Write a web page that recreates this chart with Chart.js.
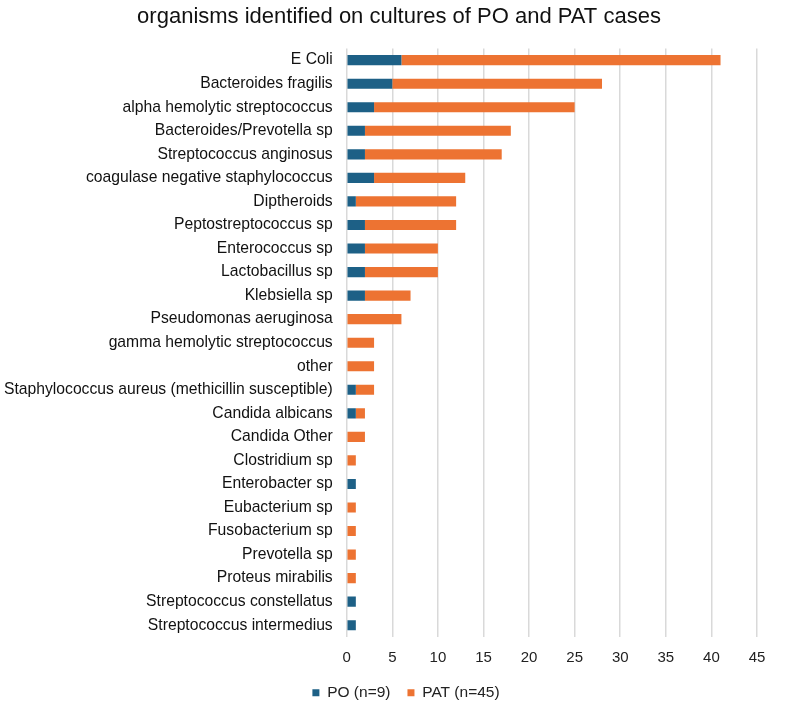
<!DOCTYPE html>
<html><head><meta charset="utf-8">
<script src="https://cdn.jsdelivr.net/npm/chart.js@4"></script>
<style>html,body{margin:0;padding:0;background:#fff}#wrap{width:798px;height:702px}</style>
</head><body><div id="wrap"><canvas id="c"></canvas></div>
<script>
const categories = ["E Coli","Bacteroides fragilis","alpha hemolytic streptococcus","Bacteroides/Prevotella sp","Streptococcus anginosus","coagulase negative staphylococcus","Diptheroids","Peptostreptococcus sp","Enterococcus sp","Lactobacillus sp","Klebsiella sp","Pseudomonas aeruginosa","gamma hemolytic streptococcus","other","Staphylococcus aureus (methicillin susceptible)","Candida albicans","Candida Other","Clostridium sp","Enterobacter sp","Eubacterium sp","Fusobacterium sp","Prevotella sp","Proteus mirabilis","Streptococcus constellatus","Streptococcus intermedius"];
const poValues  = [6,5,3,2,2,3,1,2,2,2,2,0,0,0,1,1,0,0,1,0,0,0,0,1,1];
const patValues = [35,23,22,16,15,10,11,10,8,8,5,6,3,3,2,1,2,1,0,1,1,1,1,0,0];
const xTicks = [0,5,10,15,20,25,30,35,40,45];
const seriesNames = ["PO (n=9)","PAT (n=45)"];
const font = "'Liberation Sans', Arial, sans-serif";
const layoutFix = {
  id: 'layoutFix',
  afterInit(chart) {
    const lg = chart.legend;
    if (lg && !lg._patched) {
      const f = lg.fit.bind(lg);
      lg.fit = function () { f(); this.height = 24; };
      lg._patched = true;
    }
  },
  afterLayout(chart) {
    const t = chart.titleBlock;
    if (t) { t.left = 0; t.right = chart.width; t.width = chart.width; }
    const lg = chart.legend;
    if (lg) {
      lg.top = 668; lg.bottom = 702; lg.height = 34;
      lg.left = 7; lg.right = chart.width + 7; lg.width = chart.width;
    }
  }
};
new Chart(document.getElementById('c'), {
  type: 'bar',
  data: {
    labels: categories,
    datasets: [
      {label: seriesNames[0], data: poValues, backgroundColor: '#1d6086', barPercentage: 0.43, categoryPercentage: 1},
      {label: seriesNames[1], data: patValues, backgroundColor: '#ed7332', barPercentage: 0.43, categoryPercentage: 1}
    ]
  },
  plugins: [layoutFix],
  options: {
    indexAxis: 'y',
    responsive: true, maintainAspectRatio: false, animation: false,
    layout: {padding: {left: -2, right: 41, top: 0, bottom: -1}},
    plugins: {
      title: {display: true, text: 'organisms identified on cultures of PO and PAT cases', font: {family: font, size: 22, weight: 'normal'}, color: '#111', padding: {top: 4, bottom: 18}},
      legend: {position: 'bottom', labels: {font: {family: font, size: 15.5}, color: '#222', boxWidth: 7, boxHeight: 7, padding: 17}},
      tooltip: {enabled: false}
    },
    scales: {
      x: {stacked: true, min: 0, max: 45, afterBuildTicks: a => { a.ticks = xTicks.map(v => ({value: v})); },
          grid: {color: '#d9d9d9', lineWidth: 1.5, drawTicks: false}, border: {display: false},
          ticks: {font: {family: font, size: 15}, color: '#222', padding: 12}},
      y: {stacked: true, grid: {display: false}, border: {display: false},
          ticks: {font: {family: font, size: 15.7}, color: '#111', padding: 6, autoSkip: false}}
    }
  }
});
</script></body></html>
